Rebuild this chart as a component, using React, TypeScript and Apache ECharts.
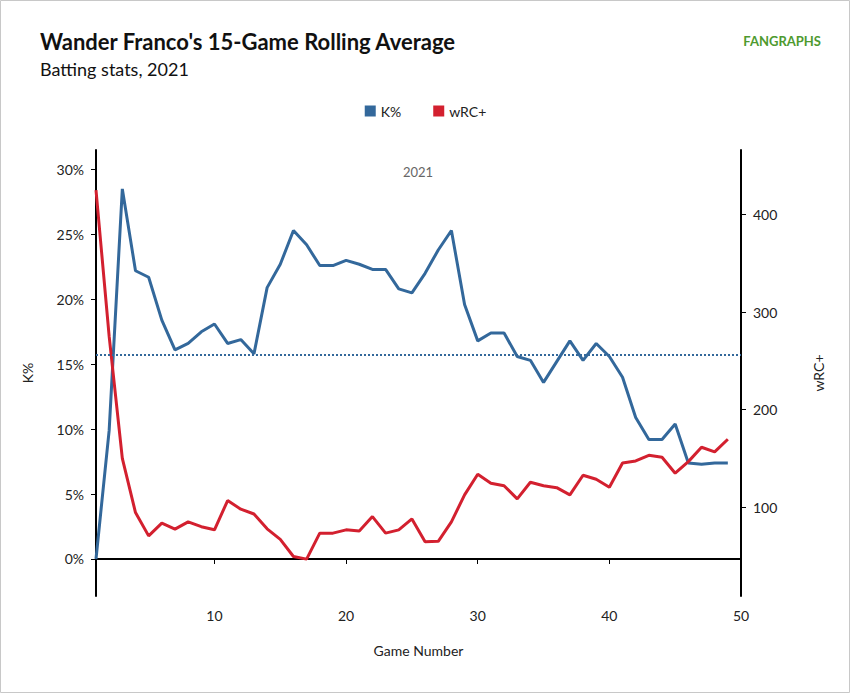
import React from "react";
import * as echarts from "echarts";

const games = Array.from({ length: 49 }, (_, i) => i + 1);
const kPct = [
  0, 9.9, 28.5, 22.2, 21.7, 18.4, 16.1, 16.6, 17.5, 18.1, 16.6, 16.9, 15.8, 20.9, 22.7, 25.3, 24.2,
  22.6, 22.6, 23.0, 22.7, 22.3, 22.3, 20.8, 20.5, 22.0, 23.8, 25.3, 19.6, 16.8, 17.4, 17.4, 15.6,
  15.3, 13.6, 15.2, 16.8, 15.3, 16.6, 15.6, 14.0, 10.9, 9.2, 9.2, 10.4, 7.4, 7.3, 7.4, 7.4,
];
const wrcPlus = [
  425, 275, 150, 94.5, 70.6, 83.6, 77.5, 85, 80, 76.8, 106.8, 98, 93, 77.8, 67, 49.5, 46.8, 73.4,
  73.4, 76.8, 75.7, 90.4, 73.4, 76.8, 88, 64.5, 65, 85, 112.6, 133.8, 124.6, 122, 108.5, 125.6, 122,
  120, 112.6, 132.7, 128.6, 120.5, 145.3, 147.4, 153.2, 151.2, 134.8, 146.7, 161.4, 156.6, 169.6,
];
const kAverage = 15.7;
const leftTicks = [0, 5, 10, 15, 20, 25, 30];
const rightTicks = [100, 200, 300, 400];
const xTicks = [10, 20, 30, 40, 50];

const BLUE = "#33689b";
const RED = "#d3202f";
const FONT = "Lato";

export default function App() {
  const ref = React.useRef<HTMLDivElement>(null);
  React.useEffect(() => {
    document.body.style.margin = "0";
    const chart = echarts.init(ref.current, null, { renderer: "svg" });
    chart.setOption({
      animation: false,
      textStyle: { fontFamily: FONT },
      title: [
        {
          text: "Wander Franco's 15-Game Rolling Average",
          left: 35,
          top: 25,
          textStyle: { fontSize: 22, fontWeight: "bold", color: "#111", fontFamily: FONT },
        },
        {
          text: "Batting stats, 2021",
          left: 35,
          top: 55,
          textStyle: { fontSize: 18, fontWeight: "normal", color: "#111", fontFamily: FONT },
        },
        {
          text: "2021",
          left: 413,
          top: 160,
          textAlign: "center",
          textStyle: { fontSize: 13, fontWeight: "normal", color: "#666", fontFamily: FONT },
        },
      ],
      graphic: [
        {
          type: "text",
          right: 30,
          top: 34,
          style: { text: "FANGRAPHS", fill: "#4e9a2f", font: `bold 13px ${FONT}` },
        },
        {
          type: "rect",
          shape: { x: 0.5, y: 0.5, width: 849, height: 692 },
          style: { fill: "none", stroke: "#c8c8c8", lineWidth: 1 },
        },
      ],
      legend: {
        top: 99,
        left: "center",
        itemWidth: 11,
        itemHeight: 11,
        itemGap: 32,
        icon: "rect",
        textStyle: { fontSize: 14, color: "#222", fontFamily: FONT },
        data: ["K%", "wRC+"],
      },
      grid: { left: 96, right: 110, top: 150, bottom: 98 },
      xAxis: {
        type: "value",
        min: 1,
        max: 50,
        name: "Game Number",
        nameLocation: "middle",
        nameGap: 47,
        nameTextStyle: { fontSize: 14, color: "#222" },
        axisLine: { lineStyle: { color: "#000", width: 2 } },
        axisTick: { customValues: xTicks, lineStyle: { color: "#000" } },
        axisLabel: { customValues: xTicks, fontSize: 14, color: "#222", margin: 12 },
        splitLine: { show: false },
      },
      yAxis: [
        {
          type: "value",
          min: -2.85,
          max: 31.5,
          name: "K%",
          nameLocation: "middle",
          nameGap: 62,
          nameTextStyle: { fontSize: 14, color: "#222" },
          axisLine: { show: true, lineStyle: { color: "#000", width: 2 } },
          axisTick: { show: true, customValues: leftTicks, lineStyle: { color: "#000" } },
          axisLabel: {
            customValues: leftTicks,
            fontSize: 14,
            color: "#222",
            margin: 12,
            formatter: (v: number) => `${v}%`,
          },
          splitLine: { show: false },
        },
        {
          type: "value",
          min: 9,
          max: 466,
          name: "wRC+",
          nameLocation: "middle",
          nameGap: 70,
          nameTextStyle: { fontSize: 14, color: "#222" },
          position: "right",
          axisLine: { show: true, lineStyle: { color: "#000", width: 2 } },
          axisTick: { show: true, customValues: rightTicks, lineStyle: { color: "#000" } },
          axisLabel: { customValues: rightTicks, fontSize: 14, color: "#222", margin: 12 },
          splitLine: { show: false },
        },
      ],
      series: [
        {
          name: "K%",
          type: "line",
          yAxisIndex: 0,
          data: games.map((g, i) => [g, kPct[i]]),
          showSymbol: false,
          itemStyle: { color: BLUE },
          lineStyle: { color: BLUE, width: 3 },
          markLine: {
            silent: true,
            symbol: "none",
            label: { show: false },
            lineStyle: { color: BLUE, type: [2, 2], width: 2 },
            data: [{ yAxis: kAverage }],
          },
        },
        {
          name: "wRC+",
          type: "line",
          yAxisIndex: 1,
          data: games.map((g, i) => [g, wrcPlus[i]]),
          showSymbol: false,
          itemStyle: { color: RED },
          lineStyle: { color: RED, width: 3 },
        },
      ],
    });
    return () => chart.dispose();
  }, []);
  return <div ref={ref} style={{ width: 851, height: 694 }} />;
}
